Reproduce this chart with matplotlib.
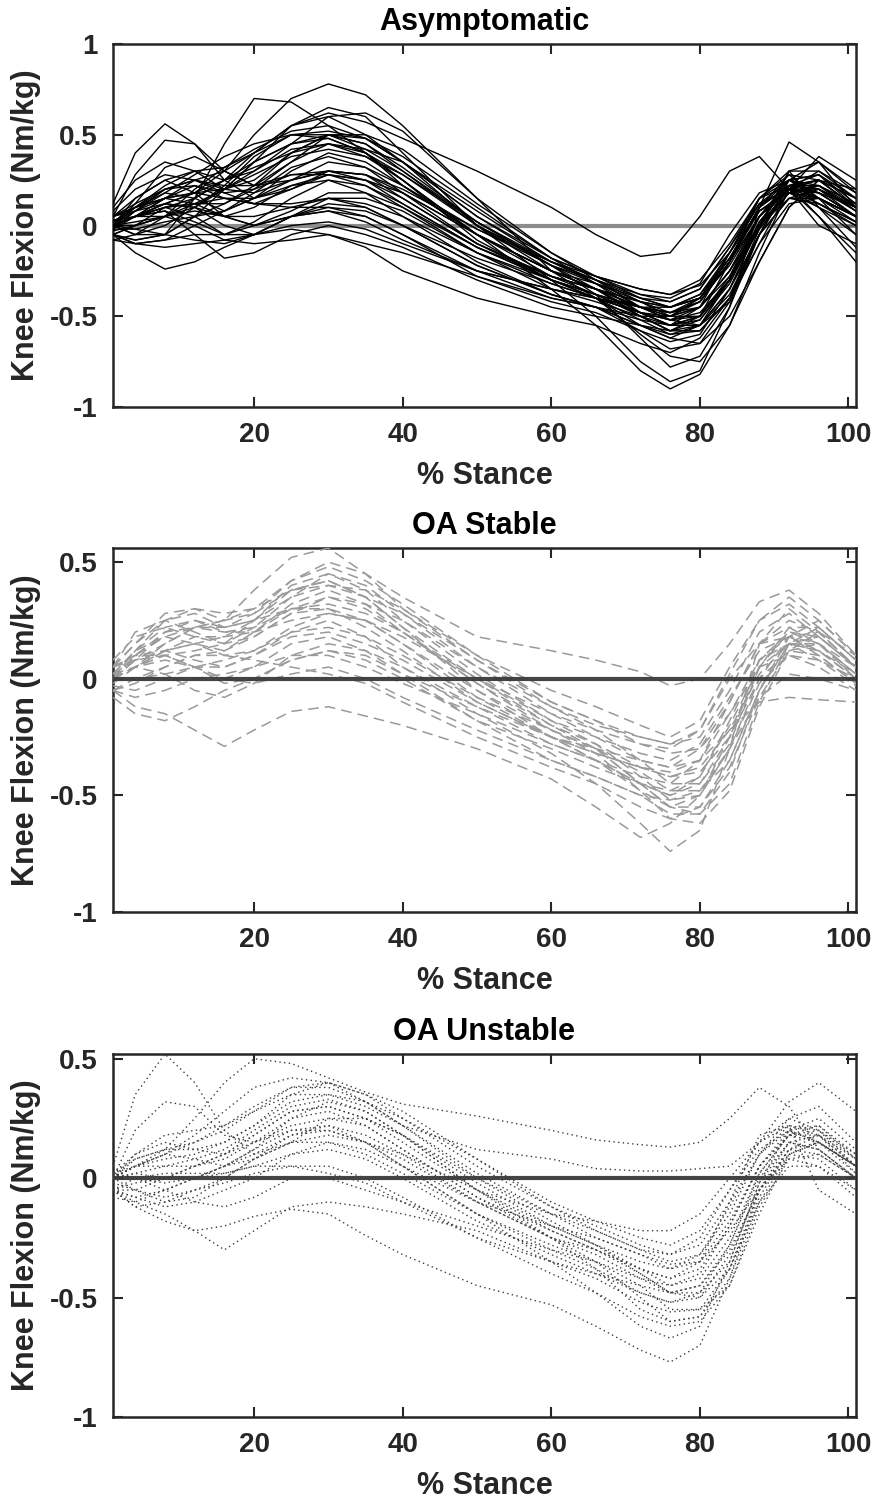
import matplotlib as mpl
mpl.rcParams['font.family'] = ['Liberation Sans', 'DejaVu Sans']
mpl.rcParams['font.weight'] = 'bold'
mpl.rcParams['axes.unicode_minus'] = False
import matplotlib.pyplot as plt

# % stance sample points
stance = [1, 4, 8, 12, 16, 20, 25, 30, 35, 40, 50, 60, 66, 72, 76, 80, 84, 88, 92, 96, 101]

# knee flexion moment (Nm/kg), one row per subject
asymptomatic = [
    [0.00, 0.05, 0.12, 0.18, 0.30, 0.50, 0.70, 0.78, 0.72, 0.55, 0.15, -0.25, -0.40, -0.55, -0.62, -0.55, -0.30, 0.05, 0.22, 0.15, 0.05],
    [0.00, -0.05, -0.05, 0.15, 0.45, 0.70, 0.68, 0.55, 0.40, 0.22, -0.05, -0.25, -0.35, -0.48, -0.55, -0.45, -0.15, 0.15, 0.25, 0.18, 0.05],
    [0.12, 0.40, 0.56, 0.45, 0.25, 0.15, 0.20, 0.30, 0.28, 0.15, -0.10, -0.28, -0.35, -0.42, -0.45, -0.40, -0.20, 0.10, 0.22, 0.12, 0.02],
    [0.05, 0.28, 0.47, 0.45, 0.30, 0.22, 0.35, 0.50, 0.45, 0.30, 0.00, -0.20, -0.30, -0.40, -0.45, -0.38, -0.15, 0.12, 0.25, 0.20, 0.08],
    [0.00, 0.05, 0.15, 0.25, 0.30, 0.40, 0.55, 0.62, 0.57, 0.48, 0.30, 0.10, -0.05, -0.17, -0.15, 0.05, 0.30, 0.38, 0.20, 0.00, -0.10],
    [-0.05, -0.08, -0.05, 0.05, 0.20, 0.35, 0.45, 0.48, 0.40, 0.25, -0.05, -0.35, -0.55, -0.80, -0.90, -0.82, -0.55, -0.20, 0.10, 0.25, 0.15],
    [0.00, 0.05, 0.10, 0.15, 0.25, 0.40, 0.55, 0.60, 0.50, 0.35, 0.00, -0.30, -0.50, -0.75, -0.86, -0.80, -0.45, 0.10, 0.46, 0.35, 0.10],
    [-0.05, -0.15, -0.24, -0.20, -0.12, -0.05, 0.05, 0.08, 0.02, -0.08, -0.25, -0.35, -0.40, -0.48, -0.52, -0.45, -0.25, 0.00, 0.15, 0.20, 0.10],
    [0.00, 0.05, 0.08, -0.05, -0.18, -0.15, -0.05, 0.00, -0.05, -0.12, -0.30, -0.45, -0.50, -0.55, -0.60, -0.55, -0.35, -0.05, 0.15, 0.12, 0.00],
    [-0.05, -0.10, -0.12, -0.10, -0.08, -0.05, -0.02, -0.05, -0.12, -0.25, -0.40, -0.50, -0.55, -0.65, -0.70, -0.62, -0.40, -0.10, 0.12, 0.15, 0.05],
    [0.02, 0.10, 0.20, 0.25, 0.20, 0.25, 0.40, 0.50, 0.48, 0.35, 0.05, -0.18, -0.28, -0.35, -0.38, -0.30, -0.10, 0.15, 0.22, 0.15, 0.05],
    [0.00, 0.08, 0.18, 0.15, 0.08, 0.15, 0.30, 0.40, 0.35, 0.22, -0.05, -0.25, -0.32, -0.40, -0.42, -0.35, -0.12, 0.12, 0.20, 0.05, -0.15],
    [-0.02, 0.05, 0.12, 0.10, 0.05, 0.10, 0.22, 0.28, 0.25, 0.15, -0.10, -0.28, -0.35, -0.42, -0.45, -0.38, -0.18, 0.08, 0.18, 0.15, 0.05],
    [0.05, 0.15, 0.25, 0.30, 0.25, 0.30, 0.45, 0.60, 0.62, 0.52, 0.15, -0.15, -0.30, -0.45, -0.50, -0.42, -0.20, 0.05, 0.20, 0.18, 0.10],
    [0.00, 0.05, 0.10, 0.12, 0.20, 0.35, 0.55, 0.65, 0.60, 0.40, 0.00, -0.25, -0.35, -0.45, -0.48, -0.40, -0.18, 0.10, 0.28, 0.25, 0.10],
    [-0.05, 0.00, 0.05, 0.08, 0.05, 0.05, 0.10, 0.15, 0.12, 0.05, -0.15, -0.30, -0.38, -0.45, -0.48, -0.42, -0.20, 0.10, 0.22, 0.05, -0.20],
    [0.00, 0.10, 0.22, 0.30, 0.32, 0.40, 0.50, 0.52, 0.48, 0.38, 0.10, -0.18, -0.32, -0.48, -0.55, -0.50, -0.28, 0.05, 0.25, 0.28, 0.15],
    [0.00, -0.05, 0.00, 0.10, 0.20, 0.30, 0.42, 0.45, 0.38, 0.25, -0.05, -0.28, -0.38, -0.50, -0.58, -0.55, -0.35, 0.00, 0.30, 0.30, 0.15],
    [-0.08, -0.10, -0.08, -0.05, -0.05, 0.00, 0.05, 0.08, 0.05, -0.05, -0.25, -0.40, -0.45, -0.50, -0.50, -0.40, -0.15, 0.12, 0.20, 0.10, -0.05],
    [0.05, 0.12, 0.20, 0.25, 0.22, 0.22, 0.28, 0.30, 0.25, 0.12, -0.12, -0.30, -0.38, -0.45, -0.48, -0.45, -0.28, 0.00, 0.20, 0.25, 0.10],
    [0.00, 0.00, 0.05, 0.15, 0.25, 0.35, 0.45, 0.50, 0.45, 0.32, 0.02, -0.22, -0.38, -0.62, -0.78, -0.72, -0.45, -0.05, 0.25, 0.35, 0.20],
    [0.02, 0.08, 0.15, 0.18, 0.15, 0.15, 0.22, 0.25, 0.18, 0.05, -0.20, -0.38, -0.45, -0.52, -0.55, -0.50, -0.30, 0.00, 0.18, 0.20, 0.10],
    [-0.05, 0.00, 0.10, 0.12, 0.05, 0.00, 0.05, 0.10, 0.08, 0.00, -0.18, -0.32, -0.40, -0.48, -0.52, -0.48, -0.30, -0.02, 0.18, 0.22, 0.12],
    [0.00, 0.12, 0.32, 0.38, 0.30, 0.22, 0.25, 0.30, 0.28, 0.18, -0.05, -0.25, -0.35, -0.50, -0.58, -0.50, -0.20, 0.15, 0.30, 0.10, -0.12],
    [0.00, 0.02, 0.05, 0.00, -0.08, -0.10, -0.08, -0.05, -0.10, -0.15, -0.28, -0.40, -0.45, -0.55, -0.62, -0.65, -0.50, -0.20, 0.10, 0.25, 0.20],
    [0.05, 0.10, 0.18, 0.28, 0.38, 0.45, 0.50, 0.48, 0.40, 0.28, 0.00, -0.22, -0.30, -0.38, -0.40, -0.32, -0.05, 0.18, 0.25, 0.15, 0.05],
    [0.00, 0.05, 0.12, 0.10, 0.00, -0.05, 0.00, 0.02, -0.02, -0.10, -0.25, -0.35, -0.40, -0.48, -0.50, -0.45, -0.25, 0.05, 0.22, 0.25, 0.15],
    [-0.02, -0.02, 0.02, 0.05, 0.08, 0.15, 0.25, 0.30, 0.28, 0.20, -0.02, -0.20, -0.28, -0.35, -0.38, -0.33, -0.15, 0.08, 0.18, 0.10, 0.00],
    [0.08, 0.20, 0.28, 0.25, 0.18, 0.20, 0.35, 0.45, 0.40, 0.25, -0.08, -0.30, -0.40, -0.60, -0.72, -0.75, -0.55, -0.15, 0.20, 0.38, 0.25],
    [0.00, 0.05, 0.10, 0.05, -0.05, -0.05, 0.05, 0.12, 0.10, 0.00, -0.22, -0.38, -0.45, -0.58, -0.68, -0.65, -0.42, -0.05, 0.22, 0.25, 0.10],
    [-0.05, -0.08, -0.05, 0.05, 0.12, 0.20, 0.28, 0.28, 0.22, 0.10, -0.15, -0.32, -0.40, -0.45, -0.45, -0.40, -0.22, 0.05, 0.20, 0.15, 0.02],
    [0.02, 0.10, 0.15, 0.12, 0.12, 0.22, 0.40, 0.50, 0.50, 0.42, 0.12, -0.15, -0.28, -0.40, -0.45, -0.40, -0.18, 0.10, 0.25, 0.22, 0.08],
    [0.00, 0.05, 0.08, 0.02, -0.05, 0.02, 0.15, 0.25, 0.22, 0.12, -0.12, -0.28, -0.35, -0.45, -0.52, -0.55, -0.42, -0.10, 0.20, 0.30, 0.18],
    [0.00, -0.02, -0.05, -0.08, -0.10, -0.05, 0.05, 0.15, 0.15, 0.08, -0.15, -0.35, -0.42, -0.50, -0.55, -0.55, -0.38, -0.05, 0.15, 0.15, 0.05],
    [0.05, 0.10, 0.15, 0.18, 0.20, 0.28, 0.38, 0.42, 0.38, 0.28, 0.02, -0.20, -0.30, -0.42, -0.50, -0.50, -0.30, 0.00, 0.18, 0.22, 0.10],
    [-0.03, 0.00, 0.05, 0.12, 0.15, 0.12, 0.10, 0.10, 0.05, -0.05, -0.28, -0.42, -0.48, -0.58, -0.64, -0.60, -0.35, 0.00, 0.20, 0.18, 0.05],
    [0.10, 0.25, 0.35, 0.30, 0.20, 0.18, 0.25, 0.35, 0.32, 0.22, -0.02, -0.22, -0.32, -0.45, -0.52, -0.50, -0.30, 0.02, 0.22, 0.28, 0.12],
    [-0.08, -0.05, 0.05, 0.20, 0.32, 0.42, 0.52, 0.55, 0.48, 0.35, 0.05, -0.20, -0.32, -0.42, -0.48, -0.42, -0.20, 0.08, 0.20, 0.12, 0.02],
    [0.00, 0.15, 0.25, 0.18, 0.05, 0.00, 0.08, 0.18, 0.18, 0.10, -0.12, -0.30, -0.38, -0.48, -0.55, -0.52, -0.32, 0.00, 0.25, 0.28, 0.10],
    [-0.05, -0.10, -0.08, 0.00, 0.08, 0.18, 0.32, 0.38, 0.32, 0.18, -0.10, -0.30, -0.40, -0.52, -0.60, -0.58, -0.40, -0.05, 0.22, 0.20, 0.05],
    [0.05, 0.08, 0.12, 0.18, 0.25, 0.32, 0.40, 0.45, 0.42, 0.35, 0.08, -0.18, -0.28, -0.38, -0.42, -0.35, -0.12, 0.15, 0.28, 0.15, -0.05],
    [0.00, 0.05, 0.15, 0.22, 0.18, 0.12, 0.12, 0.15, 0.10, 0.00, -0.22, -0.38, -0.45, -0.55, -0.58, -0.52, -0.30, 0.02, 0.22, 0.22, 0.08],
    [-0.02, 0.08, 0.20, 0.22, 0.15, 0.12, 0.20, 0.28, 0.25, 0.18, -0.05, -0.25, -0.35, -0.45, -0.50, -0.45, -0.25, 0.05, 0.22, 0.18, 0.05],
    [0.03, 0.05, 0.05, 0.10, 0.22, 0.38, 0.50, 0.50, 0.42, 0.30, 0.02, -0.22, -0.35, -0.50, -0.58, -0.58, -0.40, -0.02, 0.30, 0.35, 0.18],
]

oa_stable = [
    [0.00, 0.10, 0.20, 0.22, 0.25, 0.38, 0.52, 0.56, 0.45, 0.30, 0.10, -0.05, -0.12, -0.20, -0.25, -0.18, 0.05, 0.25, 0.35, 0.25, 0.10],
    [0.05, 0.15, 0.25, 0.30, 0.28, 0.30, 0.42, 0.50, 0.45, 0.35, 0.18, 0.12, 0.08, 0.03, -0.03, 0.00, 0.15, 0.33, 0.38, 0.28, 0.10],
    [-0.05, -0.12, -0.15, -0.22, -0.29, -0.22, -0.14, -0.12, -0.16, -0.20, -0.30, -0.43, -0.55, -0.68, -0.62, -0.50, -0.30, -0.08, 0.02, 0.00, -0.05],
    [0.05, 0.10, 0.12, 0.08, 0.05, 0.10, 0.20, 0.25, 0.18, 0.05, -0.15, -0.32, -0.45, -0.62, -0.74, -0.65, -0.30, 0.15, 0.30, 0.20, 0.05],
    [0.00, 0.08, 0.20, 0.25, 0.20, 0.22, 0.35, 0.45, 0.40, 0.28, 0.05, -0.15, -0.25, -0.35, -0.38, -0.30, -0.10, 0.15, 0.22, 0.15, 0.02],
    [0.02, 0.12, 0.22, 0.25, 0.22, 0.25, 0.30, 0.32, 0.28, 0.20, 0.00, -0.18, -0.28, -0.42, -0.52, -0.50, -0.30, 0.00, 0.18, 0.20, 0.05],
    [-0.05, 0.00, 0.05, 0.10, 0.12, 0.18, 0.28, 0.30, 0.25, 0.15, -0.05, -0.22, -0.30, -0.45, -0.55, -0.55, -0.38, -0.08, 0.12, 0.15, 0.00],
    [0.00, 0.05, 0.10, 0.12, 0.15, 0.25, 0.40, 0.45, 0.38, 0.25, 0.02, -0.18, -0.25, -0.32, -0.35, -0.28, -0.08, 0.12, 0.18, 0.10, -0.02],
    [-0.05, -0.08, -0.05, 0.00, 0.02, 0.05, 0.10, 0.10, 0.05, -0.02, -0.15, -0.28, -0.35, -0.45, -0.50, -0.45, -0.25, 0.00, 0.12, 0.10, -0.02],
    [0.05, 0.15, 0.28, 0.30, 0.25, 0.28, 0.38, 0.42, 0.35, 0.22, 0.00, -0.20, -0.30, -0.45, -0.55, -0.58, -0.45, -0.10, 0.15, 0.22, 0.08],
    [0.00, 0.05, 0.08, 0.05, 0.05, 0.10, 0.18, 0.20, 0.15, 0.08, -0.10, -0.25, -0.32, -0.38, -0.40, -0.35, -0.15, 0.05, 0.10, 0.05, -0.05],
    [0.00, 0.10, 0.18, 0.15, 0.12, 0.20, 0.32, 0.38, 0.32, 0.20, -0.02, -0.20, -0.28, -0.38, -0.42, -0.40, -0.25, 0.05, 0.20, 0.18, 0.05],
    [-0.08, -0.15, -0.18, -0.12, -0.05, 0.00, 0.08, 0.12, 0.10, 0.02, -0.12, -0.25, -0.30, -0.35, -0.38, -0.35, -0.22, -0.10, -0.08, -0.09, -0.10],
    [0.02, 0.08, 0.15, 0.22, 0.20, 0.20, 0.25, 0.28, 0.25, 0.18, 0.00, -0.15, -0.22, -0.28, -0.30, -0.22, 0.00, 0.15, 0.18, 0.12, 0.00],
    [0.00, 0.00, 0.02, 0.05, 0.08, 0.12, 0.20, 0.22, 0.18, 0.10, -0.08, -0.22, -0.30, -0.40, -0.48, -0.48, -0.35, -0.05, 0.18, 0.25, 0.10],
    [0.05, 0.10, 0.10, 0.05, 0.00, 0.05, 0.15, 0.18, 0.12, 0.02, -0.18, -0.35, -0.42, -0.50, -0.58, -0.58, -0.40, -0.05, 0.15, 0.15, 0.02],
    [0.00, 0.05, 0.15, 0.22, 0.25, 0.30, 0.38, 0.40, 0.35, 0.28, 0.08, -0.10, -0.18, -0.28, -0.32, -0.30, -0.15, 0.08, 0.18, 0.15, 0.05],
    [-0.03, -0.05, 0.00, 0.05, 0.00, -0.02, 0.02, 0.05, 0.00, -0.08, -0.22, -0.35, -0.42, -0.50, -0.52, -0.48, -0.30, -0.02, 0.10, 0.08, 0.00],
    [0.02, 0.05, 0.12, 0.18, 0.18, 0.20, 0.30, 0.35, 0.30, 0.20, -0.02, -0.22, -0.32, -0.48, -0.60, -0.62, -0.48, -0.12, 0.12, 0.20, 0.10],
    [0.00, 0.08, 0.10, 0.05, -0.02, 0.00, 0.08, 0.12, 0.08, 0.00, -0.18, -0.30, -0.38, -0.45, -0.48, -0.42, -0.20, 0.05, 0.15, 0.12, 0.02],
    [0.05, 0.20, 0.25, 0.20, 0.15, 0.18, 0.28, 0.35, 0.32, 0.25, 0.05, -0.12, -0.20, -0.25, -0.28, -0.25, -0.05, 0.20, 0.28, 0.18, 0.05],
    [-0.05, -0.02, 0.05, 0.10, 0.10, 0.08, 0.05, 0.02, -0.02, -0.10, -0.25, -0.38, -0.45, -0.55, -0.60, -0.55, -0.35, -0.05, 0.15, 0.18, 0.05],
    [0.02, 0.12, 0.18, 0.22, 0.22, 0.28, 0.42, 0.48, 0.42, 0.32, 0.10, -0.10, -0.18, -0.25, -0.28, -0.22, 0.02, 0.25, 0.32, 0.22, 0.08],
    [0.00, 0.05, 0.02, -0.05, -0.08, -0.02, 0.10, 0.15, 0.12, 0.05, -0.12, -0.28, -0.35, -0.45, -0.50, -0.42, -0.18, 0.08, 0.15, 0.08, -0.03],
    [0.08, 0.18, 0.22, 0.18, 0.15, 0.22, 0.30, 0.30, 0.22, 0.12, -0.10, -0.25, -0.32, -0.38, -0.42, -0.38, -0.22, 0.02, 0.15, 0.12, 0.00],
    [0.00, 0.12, 0.25, 0.28, 0.22, 0.25, 0.35, 0.40, 0.38, 0.30, 0.08, -0.12, -0.22, -0.35, -0.45, -0.45, -0.28, 0.05, 0.22, 0.22, 0.08],
    [-0.02, 0.05, 0.12, 0.15, 0.10, 0.12, 0.22, 0.28, 0.25, 0.15, -0.08, -0.25, -0.35, -0.48, -0.55, -0.50, -0.25, 0.08, 0.20, 0.15, 0.02],
    [0.05, 0.08, 0.12, 0.15, 0.18, 0.25, 0.38, 0.42, 0.35, 0.22, -0.05, -0.25, -0.35, -0.42, -0.45, -0.35, -0.10, 0.15, 0.25, 0.20, 0.05],
]

oa_unstable = [
    [0.05, 0.35, 0.52, 0.40, 0.20, 0.10, 0.15, 0.25, 0.25, 0.18, 0.00, -0.15, -0.22, -0.30, -0.32, -0.25, -0.05, 0.15, 0.25, 0.20, 0.05],
    [0.00, 0.20, 0.32, 0.30, 0.18, 0.15, 0.25, 0.32, 0.28, 0.18, -0.05, -0.20, -0.28, -0.35, -0.38, -0.32, -0.12, 0.10, 0.20, 0.15, 0.02],
    [0.00, 0.05, 0.12, 0.25, 0.40, 0.50, 0.48, 0.42, 0.36, 0.31, 0.26, 0.20, 0.16, 0.14, 0.13, 0.15, 0.25, 0.38, 0.30, 0.12, 0.00],
    [0.00, 0.05, 0.10, 0.18, 0.28, 0.38, 0.42, 0.40, 0.32, 0.22, 0.12, 0.08, 0.04, 0.03, 0.03, 0.04, 0.05, 0.15, 0.32, 0.40, 0.28],
    [-0.05, -0.08, -0.05, 0.00, 0.05, 0.12, 0.20, 0.22, 0.15, 0.05, -0.15, -0.35, -0.48, -0.62, -0.67, -0.62, -0.35, -0.02, 0.15, 0.18, 0.05],
    [0.00, 0.02, 0.05, 0.08, 0.12, 0.20, 0.30, 0.33, 0.28, 0.18, -0.05, -0.25, -0.38, -0.55, -0.60, -0.58, -0.42, -0.10, 0.10, 0.15, 0.05],
    [-0.05, -0.10, -0.15, -0.22, -0.30, -0.22, -0.12, -0.10, -0.12, -0.15, -0.22, -0.35, -0.42, -0.52, -0.56, -0.55, -0.38, -0.10, 0.05, 0.05, -0.05],
    [-0.05, -0.12, -0.18, -0.22, -0.20, -0.16, -0.13, -0.15, -0.24, -0.32, -0.45, -0.53, -0.62, -0.72, -0.77, -0.70, -0.42, -0.05, 0.12, 0.10, 0.00],
    [0.00, 0.05, 0.08, 0.10, 0.15, 0.22, 0.32, 0.35, 0.32, 0.25, 0.08, -0.10, -0.18, -0.25, -0.28, -0.22, -0.05, 0.12, 0.20, 0.15, 0.05],
    [0.02, 0.10, 0.15, 0.12, 0.10, 0.18, 0.28, 0.30, 0.25, 0.15, -0.05, -0.22, -0.30, -0.38, -0.42, -0.38, -0.20, 0.05, 0.18, 0.20, 0.08],
    [-0.08, -0.10, -0.05, 0.00, 0.02, 0.05, 0.10, 0.12, 0.08, 0.00, -0.18, -0.32, -0.40, -0.48, -0.52, -0.48, -0.28, 0.00, 0.15, 0.12, 0.00],
    [0.00, 0.00, -0.05, -0.10, -0.12, -0.08, 0.00, 0.00, -0.05, -0.10, -0.20, -0.30, -0.35, -0.42, -0.45, -0.40, -0.20, 0.05, 0.18, 0.15, 0.05],
    [-0.05, -0.12, -0.10, -0.05, -0.02, 0.02, 0.05, 0.05, 0.00, -0.08, -0.25, -0.40, -0.48, -0.58, -0.62, -0.60, -0.45, -0.12, 0.08, 0.10, 0.00],
    [0.02, 0.08, 0.12, 0.12, 0.15, 0.22, 0.35, 0.40, 0.35, 0.25, 0.05, -0.12, -0.22, -0.30, -0.35, -0.32, -0.15, 0.10, 0.22, 0.20, 0.10],
    [0.00, 0.05, 0.05, 0.05, 0.08, 0.15, 0.22, 0.25, 0.22, 0.12, -0.08, -0.22, -0.30, -0.40, -0.48, -0.50, -0.38, -0.08, 0.12, 0.18, 0.05],
    [-0.05, -0.05, 0.00, 0.05, 0.10, 0.15, 0.20, 0.20, 0.15, 0.05, -0.10, -0.20, -0.25, -0.32, -0.36, -0.35, -0.22, -0.05, 0.08, 0.05, -0.08],
    [0.00, 0.02, 0.00, 0.00, 0.05, 0.10, 0.18, 0.20, 0.15, 0.08, -0.10, -0.25, -0.30, -0.38, -0.42, -0.35, -0.10, 0.18, 0.22, -0.05, -0.15],
    [-0.02, -0.05, -0.08, -0.05, 0.00, 0.08, 0.15, 0.15, 0.10, 0.02, -0.15, -0.28, -0.35, -0.45, -0.55, -0.55, -0.45, -0.15, 0.10, 0.15, 0.05],
    [0.00, 0.08, 0.12, 0.15, 0.20, 0.28, 0.35, 0.35, 0.30, 0.22, 0.02, -0.15, -0.25, -0.32, -0.38, -0.35, -0.18, 0.05, 0.20, 0.25, 0.12],
    [-0.05, 0.00, 0.02, 0.02, 0.02, 0.05, 0.05, 0.02, -0.02, -0.10, -0.25, -0.35, -0.40, -0.45, -0.48, -0.45, -0.30, -0.05, 0.10, 0.08, -0.05],
    [0.02, 0.00, -0.02, 0.00, 0.05, 0.12, 0.25, 0.28, 0.22, 0.12, -0.08, -0.25, -0.35, -0.50, -0.60, -0.58, -0.38, -0.05, 0.15, 0.12, 0.00],
    [0.00, 0.05, 0.10, 0.08, 0.05, 0.08, 0.15, 0.18, 0.15, 0.10, -0.05, -0.15, -0.18, -0.22, -0.22, -0.15, 0.00, 0.15, 0.22, 0.18, 0.08],
    [-0.05, -0.02, 0.00, 0.05, 0.10, 0.18, 0.28, 0.30, 0.25, 0.18, -0.02, -0.20, -0.28, -0.38, -0.45, -0.42, -0.25, 0.02, 0.18, 0.22, 0.10],
    [0.00, 0.10, 0.18, 0.20, 0.22, 0.28, 0.38, 0.40, 0.35, 0.28, 0.08, -0.12, -0.20, -0.28, -0.32, -0.28, -0.10, 0.10, 0.25, 0.30, 0.15],
    [-0.05, -0.08, -0.12, -0.10, -0.05, 0.00, 0.10, 0.15, 0.12, 0.05, -0.15, -0.30, -0.38, -0.48, -0.52, -0.50, -0.32, -0.05, 0.12, 0.15, 0.05],
    [0.02, 0.05, 0.10, 0.15, 0.22, 0.30, 0.38, 0.38, 0.32, 0.22, 0.00, -0.18, -0.28, -0.40, -0.48, -0.48, -0.35, -0.02, 0.20, 0.22, 0.08],
    [0.00, -0.05, -0.10, -0.08, 0.00, 0.08, 0.18, 0.22, 0.18, 0.10, -0.10, -0.25, -0.32, -0.42, -0.48, -0.45, -0.28, 0.02, 0.18, 0.18, 0.02],
]

titles = ['Asymptomatic', 'OA Stable', 'OA Unstable']
y_tops = [1.0, 0.56, 0.52]
y_ticks = [[-1, -0.5, 0, 0.5, 1], [-1, -0.5, 0, 0.5], [-1, -0.5, 0, 0.5]]
x_ticks = [20, 40, 60, 80, 100]

fig = plt.figure(figsize=(8.75, 15.02), dpi=100)
boxes = [[0.1291, 0.7290, 0.8491, 0.2417],
         [0.1291, 0.3928, 0.8491, 0.2423],
         [0.1291, 0.0566, 0.8491, 0.2417]]
groups = [asymptomatic, oa_stable, oa_unstable]
axc = '#262626'

for i in range(3):
    ax = fig.add_axes(boxes[i])
    for curve in groups[i]:
        if i == 0:
            ax.plot(stance, curve, color='black', lw=1.0, zorder=3)
        elif i == 1:
            ax.plot(stance, curve, color='#9a9a9a', lw=1.1, dashes=(7, 4), zorder=3)
        else:
            ax.plot(stance, curve, color='#3c3c3c', lw=1.0, linestyle=(0, (1, 2.4)), zorder=3)
    if i == 0:
        ax.axhline(0, color='#707070', lw=3, alpha=0.8, zorder=2)
    else:
        ax.axhline(0, color='#3a3a3a', lw=3, alpha=0.95, zorder=4)
    ax.set_xlim(1, 101)
    ax.set_ylim(-1, y_tops[i])
    ax.set_xticks(x_ticks)
    ax.set_xticklabels([str(t) for t in x_ticks])
    ax.set_yticks(y_ticks[i])
    ax.set_yticklabels(['%g' % t for t in y_ticks[i]])
    ax.tick_params(direction='in', length=7, width=1.5, colors=axc, labelsize=20,
                   top=True, right=True, pad=11)
    for s in ax.spines.values():
        s.set_linewidth(1.8)
        s.set_color(axc)
    ax.set_title(titles[i], fontsize=22, fontweight='bold', pad=10)
    ax.set_xlabel('% Stance', fontsize=22, fontweight='bold', color=axc, labelpad=9)
    ax.set_ylabel('Knee Flexion (Nm/kg)', fontsize=22, fontweight='bold', color=axc, labelpad=6)

fig.savefig('out.png', dpi=100)
